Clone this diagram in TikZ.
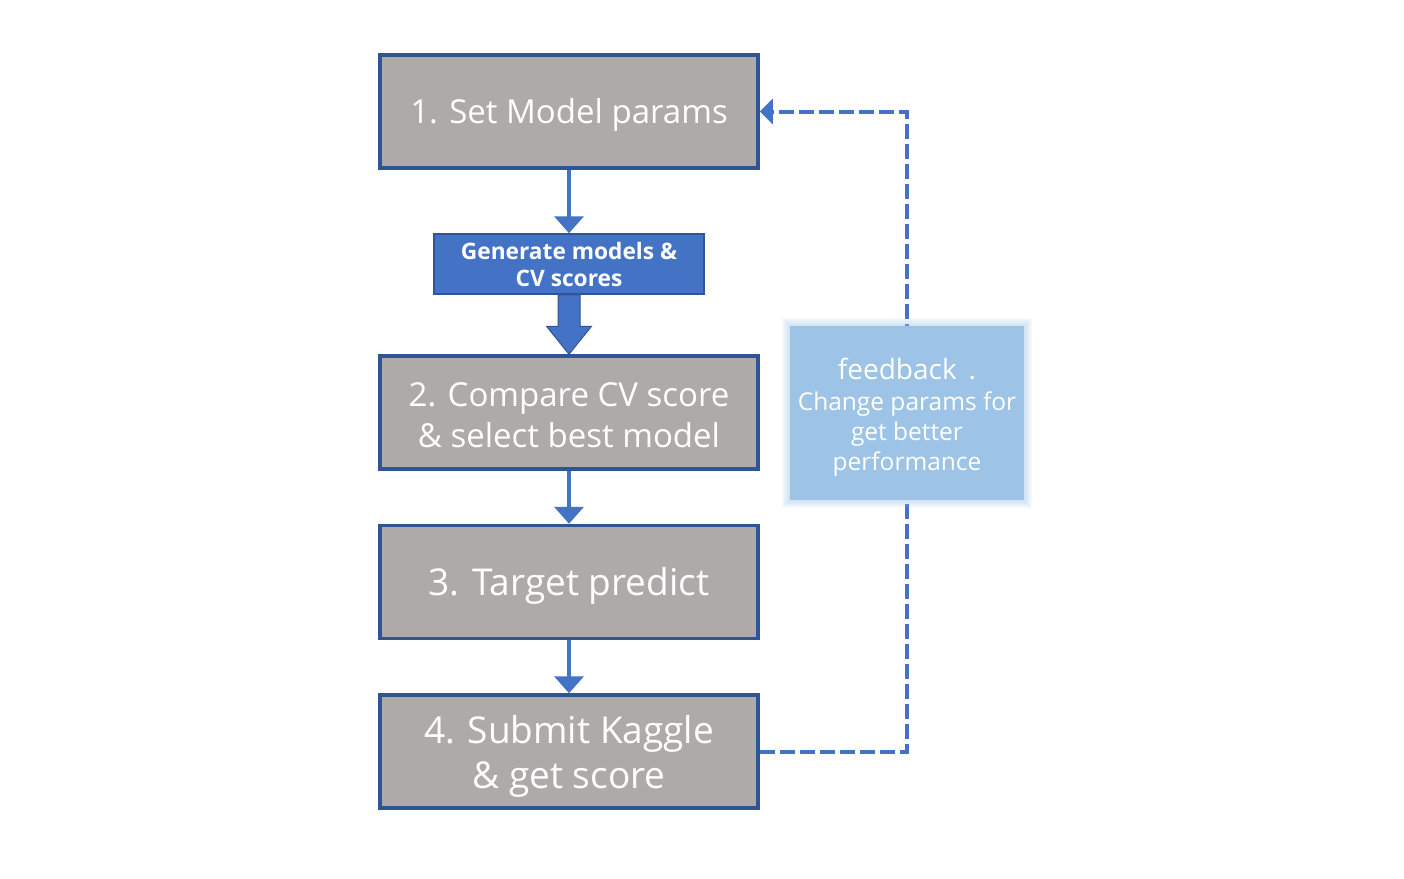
\documentclass[tikz,border=0pt]{standalone}
\usepackage{fontspec}
\setmainfont{Open Sans}
\usetikzlibrary{arrows.meta,calc}
\definecolor{gfill}{HTML}{AEAAAA}
\definecolor{bdr}{HTML}{2F5597}
\definecolor{arr}{HTML}{4472C4}
\definecolor{fbc}{HTML}{9DC3E6}
\tikzset{
  gbox/.style={draw=bdr, line width=3.5pt, fill=gfill, minimum width=378pt, minimum height=113pt,
    inner sep=0pt},
  gtext/.style={inner sep=0pt, text=white, font=\fontsize{33}{41}\selectfont, align=center},
  btext/.style={gtext, font=\fontsize{37}{45}\selectfont},
  genbox/.style={draw=bdr, line width=1.5pt, fill=arr, minimum width=270pt, minimum height=60pt,
    inner sep=0pt, text=white, font=\bfseries\fontsize{22.7}{27}\selectfont, align=center},
  fbbox/.style={fill=fbc, minimum width=234pt, minimum height=174pt, inner sep=0pt},
  fbtext/.style={inner sep=0pt, text=white, align=center, font=\fontsize{24.5}{30}\selectfont},
  flow/.style={draw=arr, line width=4pt, -{Triangle[width=29pt,length=17pt]}},
  fbline/.style={draw=arr, line width=4pt, dash pattern=on 15pt off 5pt,
    -{Triangle[width=25pt,length=13pt]}},
}
\begin{document}
\begin{tikzpicture}[x=1pt,y=-1pt]
\useasboundingbox (0,0) rectangle (1404,878);
\node[gbox] (b1) at (569,111.5) {};
\node[gtext] (t1) at ($(b1)+(0,3.5)$) {1. Set Model params};
\node[genbox] (gen) at (569,264) {Generate models \&\\CV scores};
\node[gbox] (b2) at (569,412.5) {};
\node[gtext] (t2) at ($(b2)+(0,3)$) {2. Compare CV score\\\& select best model};
\node[gbox] (b3) at (569,582) {};
\node[btext] (t3) at ($(b3)+(0,4)$) {3. Target predict};
\node[gbox] (b4) at (569,751.5) {};
\node[btext] (t4) at ($(b4)+(0,5)$) {4. Submit Kaggle\\\& get score};
% thin arrows
\draw[flow] (b1.south) -- (gen.north);
\draw[flow] (b2.south) -- (b3.north);
\draw[flow] (b3.south) -- (b4.north);
% thick arrow
\filldraw[fill=arr, draw=bdr, line width=1pt]
  ($(gen.south)+(-11,0)$) -- ($(gen.south)+(11,0)$) -- ($(b2.north)+(11,-28)$)
  -- ($(b2.north)+(22.5,-28)$) -- (b2.north) -- ($(b2.north)+(-22.5,-28)$)
  -- ($(b2.north)+(-11,-28)$) -- cycle;
% feedback loop
\coordinate (cb) at (907,751.5);
\coordinate (ct) at (907,111.5);
\draw[fbline] (b4.east) -- (cb) -- (ct) -- (b1.east);
% glow
\foreach \i in {1,...,12} {
  \fill[fbc, opacity=0.05] (790-\i*0.7,326-\i*0.7) rectangle (1024+\i*0.7,500+\i*0.7);
}
\node[fbbox] (fb) at (907,413) {};
\node[fbtext] (fbt) at ($(fb)+(0,4)$) {\fontsize{28}{30}\selectfont feedback \,.\\[1pt]
  \fontsize{24.5}{30}\selectfont Change params for\\
  get better\\
  performance};
\end{tikzpicture}
\end{document}
